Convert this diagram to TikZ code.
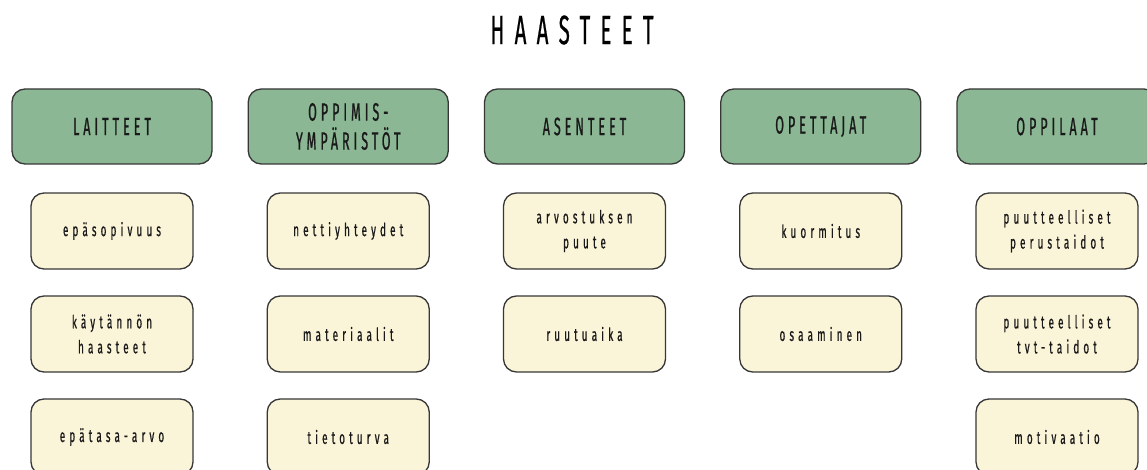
\documentclass[tikz,border=0pt]{standalone}
\usepackage{fontspec}
\newfontfamily\titlefont[FakeStretch=0.5,LetterSpace=25,FakeBold=0.5]{Fira Sans}
\newfontfamily\headfont[FakeStretch=0.5,LetterSpace=16,FakeBold=0.8]{Fira Sans}
\newfontfamily\itemfont[FakeStretch=0.55,LetterSpace=23,FakeBold=0.7]{Fira Sans}
\definecolor{headgreen}{RGB}{139,183,148}
\definecolor{itemcream}{RGB}{250,244,216}
\definecolor{edgegrey}{RGB}{55,55,55}
\tikzset{
  headbox/.style={draw=edgegrey, line width=1.3pt, fill=headgreen, rounded corners=13pt,
    minimum width=200pt, minimum height=75pt, align=center, inner sep=0pt,
    font=\headfont\fontsize{25}{29}\selectfont, text=black!90},
  itembox/.style={draw=edgegrey, line width=1.3pt, fill=itemcream, rounded corners=13pt,
    minimum width=162pt, minimum height=76pt, align=center, inner sep=0pt,
    font=\itemfont\fontsize{18}{25}\selectfont, text=black!90},
}
\begin{document}
\begin{tikzpicture}[x=1pt,y=-1pt]
  \useasboundingbox (0,0) rectangle (1147,470);
  \clip (0,0) rectangle (1147,470);
  \fill[white] (0,0) rectangle (1147,470);

  \node[font=\titlefont\fontsize{41}{41}\selectfont, text=black] (title) at (572,30) {HAASTEET};

  % column headers
  \node[headbox] (h1) at (112,126.5) {LAITTEET};
  \node[headbox] (h2) at (348.25,126.5) {OPPIMIS-\\YMPÄRISTÖT};
  \node[headbox] (h3) at (584.5,126.5) {ASENTEET};
  \node[headbox] (h4) at (820.75,126.5) {OPETTAJAT};
  \node[headbox] (h5) at (1057,126.5) {OPPILAAT};

  % items, column 1
  \node[itembox] (a1) at (112,231) {epäsopivuus};
  \node[itembox] (a2) at (112,334) {käytännön\\haasteet};
  \node[itembox] (a3) at (112,437) {epätasa-arvo};
  % column 2
  \node[itembox] (b1) at (348.25,231) {nettiyhteydet};
  \node[itembox] (b2) at (348.25,334) {materiaalit};
  \node[itembox] (b3) at (348.25,437) {tietoturva};
  % column 3
  \node[itembox] (c1) at (584.5,231) {arvostuksen\\puute};
  \node[itembox] (c2) at (584.5,334) {ruutuaika};
  % column 4
  \node[itembox] (d1) at (820.75,231) {kuormitus};
  \node[itembox] (d2) at (820.75,334) {osaaminen};
  % column 5
  \node[itembox] (e1) at (1057,231) {puutteelliset\\perustaidot};
  \node[itembox] (e2) at (1057,334) {puutteelliset\\tvt-taidot};
  \node[itembox] (e3) at (1057,437) {motivaatio};
\end{tikzpicture}
\end{document}
